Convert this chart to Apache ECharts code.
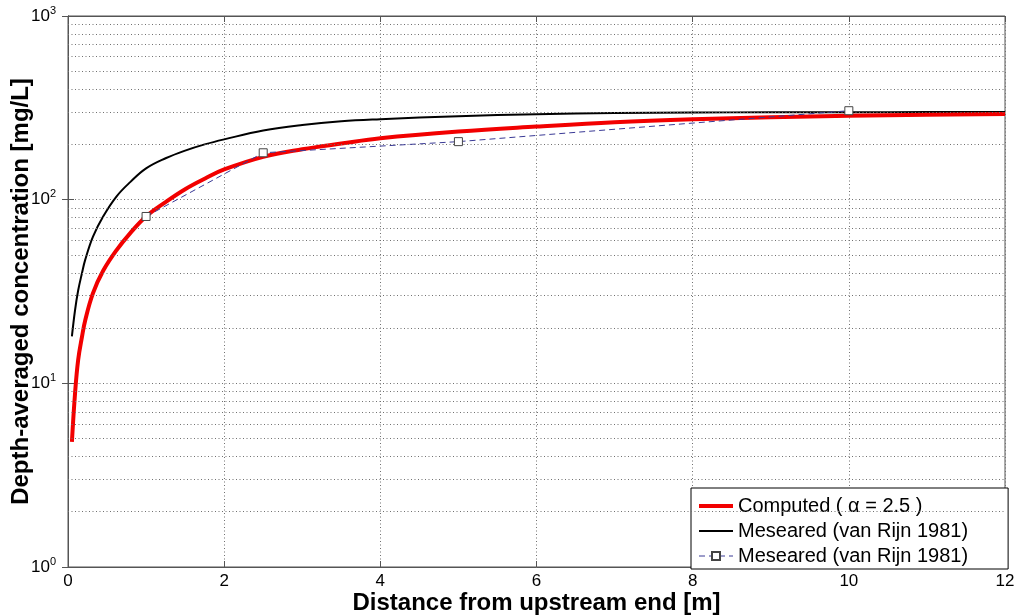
<!DOCTYPE html>
<html>
<head>
<meta charset="utf-8">
<script src="https://cdn.jsdelivr.net/npm/echarts@6/dist/echarts.min.js"></script>
<style>
  html, body { margin: 0; padding: 0; background: #fff; }
  #chart { width: 1022px; height: 616px; }
</style>
</head>
<body>
<div id="chart"></div>
<script>
// Distance from the upstream end [m] at which the curves are sampled
const curveX = [0.05, 0.09, 0.13, 0.18, 0.22, 0.32, 0.45, 0.62, 0.8, 1.0, 1.25, 1.5, 1.75, 2.0,
                2.5, 3.0, 3.5, 4.0, 5.0, 6.0, 7.0, 8.0, 9.0, 10.0, 11.0, 12.0];
// Computed depth-averaged concentration [mg/L], alpha = 2.5
const computedConc = [4.8, 8.8, 13.4, 18, 22, 31, 41, 53, 66, 81, 97, 114, 130, 146,
                      171, 188, 202, 216, 235, 250, 264, 274, 281, 286, 290, 293];
// van Rijn (1981) curve [mg/L]
const vanRijnCurveConc = [18, 25, 32, 40, 47, 63, 81, 104, 125, 148, 168, 185, 200, 213,
                          238, 255, 267, 274, 285, 292, 296, 298, 299, 299, 300, 300];
// van Rijn (1981) measured points
const vanRijnPointX = [1, 2.5, 5, 10];
const vanRijnPointConc = [81, 180, 207, 305];

// Axis ranges and minor log grid levels
const xRange = [0, 12];
const xStep = 2;
const yRange = [1, 1000];
const minorGridConc = [2, 3, 4, 5, 6, 7, 8, 9,
                       20, 30, 40, 50, 60, 70, 80, 90,
                       200, 300, 400, 500, 600, 700, 800, 900];

const seriesLabels = {
  computed: 'Computed ( \u03b1 = 2.5 )',
  vanRijnCurve: 'Meseared (van Rijn 1981)',
  vanRijnPoints: 'Meseared (van Rijn 1981)'
};

const FONT = 'Arial, "Liberation Sans", Helvetica, sans-serif';
const gridDots = { color: '#707070', width: 1, type: [1, 2.5] };
const axisColor = '#555';
const red = '#f20000';
const navy = '#3a3a96';

const pairs = (xs, ys) => xs.map((x, i) => [x, ys[i]]);

const logLabel = (v) => {
  const e = Math.round(Math.log10(v));
  return '{b|10}{s|' + e + '}';
};

const chart = echarts.init(document.getElementById('chart'), null, { renderer: 'canvas' });

chart.setOption({
  animation: false,
  backgroundColor: '#fff',
  textStyle: { fontFamily: FONT },
  grid: {
    left: 68, right: 17, top: 16, bottom: 49,
    containLabel: false,
    outerBoundsMode: 'none',
    show: true, borderColor: axisColor, borderWidth: 1, backgroundColor: 'transparent'
  },
  xAxis: [{
    type: 'value',
    min: xRange[0], max: xRange[1], interval: xStep,
    name: 'Distance from upstream end [m]',
    nameLocation: 'middle',
    nameGap: 24,
    nameMoveOverlap: false,
    nameTextStyle: { fontFamily: FONT, fontSize: 24, fontWeight: 'bold', color: '#000' },
    axisLine: { show: true, lineStyle: { color: axisColor } },
    axisTick: { show: true, inside: true, length: 6, lineStyle: { color: axisColor } },
    axisLabel: { fontFamily: FONT, fontSize: 17, color: '#000', margin: 6 },
    splitLine: { show: true, lineStyle: gridDots }
  }, {
    type: 'value',
    position: 'top',
    min: xRange[0], max: xRange[1], interval: xStep,
    axisLine: { show: true, lineStyle: { color: axisColor } },
    axisTick: { show: true, inside: true, length: 6, lineStyle: { color: axisColor } },
    axisLabel: { show: false },
    splitLine: { show: false }
  }],
  yAxis: [{
    type: 'log',
    logBase: 10,
    min: yRange[0], max: yRange[1],
    name: 'Depth-averaged concentration [mg/L]',
    nameLocation: 'middle',
    nameGap: 35,
    nameRotate: 90,
    nameMoveOverlap: false,
    nameTextStyle: { fontFamily: FONT, fontSize: 24, fontWeight: 'bold', color: '#000' },
    axisLine: { show: true, lineStyle: { color: axisColor } },
    axisTick: { show: true, inside: true, length: 6, lineStyle: { color: axisColor } },
    axisLabel: {
      margin: 12,
      formatter: logLabel,
      rich: {
        b: { fontFamily: FONT, fontSize: 17, color: '#000', lineHeight: 22 },
        s: { fontFamily: FONT, fontSize: 11, color: '#000', lineHeight: 11, verticalAlign: 'top' }
      }
    },
    splitLine: { show: true, lineStyle: gridDots }
  }, {
    type: 'log',
    logBase: 10,
    position: 'right',
    min: yRange[0], max: yRange[1],
    axisLine: { show: true, lineStyle: { color: axisColor } },
    axisTick: { show: true, inside: true, length: 6, lineStyle: { color: axisColor } },
    axisLabel: { show: false },
    splitLine: { show: false }
  }],
  legend: {
    orient: 'vertical',
    left: 691,
    top: 488,
    padding: [8, 40, 3, 6],
    itemGap: 5,
    itemWidth: 34,
    itemHeight: 10,
    backgroundColor: '#fff',
    borderColor: '#000',
    borderWidth: 1,
    borderRadius: 0,
    textStyle: { fontFamily: FONT, fontSize: 20, color: '#000', lineHeight: 20 },
    formatter: (name) => seriesLabels[name],
    data: [
      { name: 'computed', itemStyle: { opacity: 0 }, lineStyle: { color: red, width: 4 } },
      { name: 'vanRijnCurve', itemStyle: { opacity: 0 }, lineStyle: { color: '#000', width: 2 } },
      { name: 'vanRijnPoints', lineStyle: { color: navy, width: 1, type: [6, 4] } }
    ]
  },
  series: [{
    name: 'vanRijnCurve',
    type: 'line',
    data: pairs(curveX, vanRijnCurveConc),
    symbol: 'none',
    smooth: 0.4,
    lineStyle: { color: '#000', width: 2 },
    itemStyle: { color: '#000' },
    z: 3,
    markLine: {
      silent: true,
      symbol: ['none', 'none'],
      label: { show: false },
      lineStyle: gridDots,
      emphasis: { disabled: true },
      data: minorGridConc.map(v => ({ yAxis: v }))
    }
  }, {
    name: 'computed',
    type: 'line',
    data: pairs(curveX, computedConc),
    symbol: 'none',
    smooth: 0.4,
    lineStyle: { color: red, width: 4 },
    itemStyle: { color: red },
    z: 4
  }, {
    name: 'vanRijnPoints',
    type: 'line',
    data: pairs(vanRijnPointX, vanRijnPointConc),
    symbol: 'rect',
    symbolSize: 8,
    showSymbol: true,
    lineStyle: { color: navy, width: 1, type: [6, 4] },
    itemStyle: { color: '#fff', borderColor: '#444', borderWidth: 1 },
    z: 5
  }]
});
</script>
</body>
</html>
